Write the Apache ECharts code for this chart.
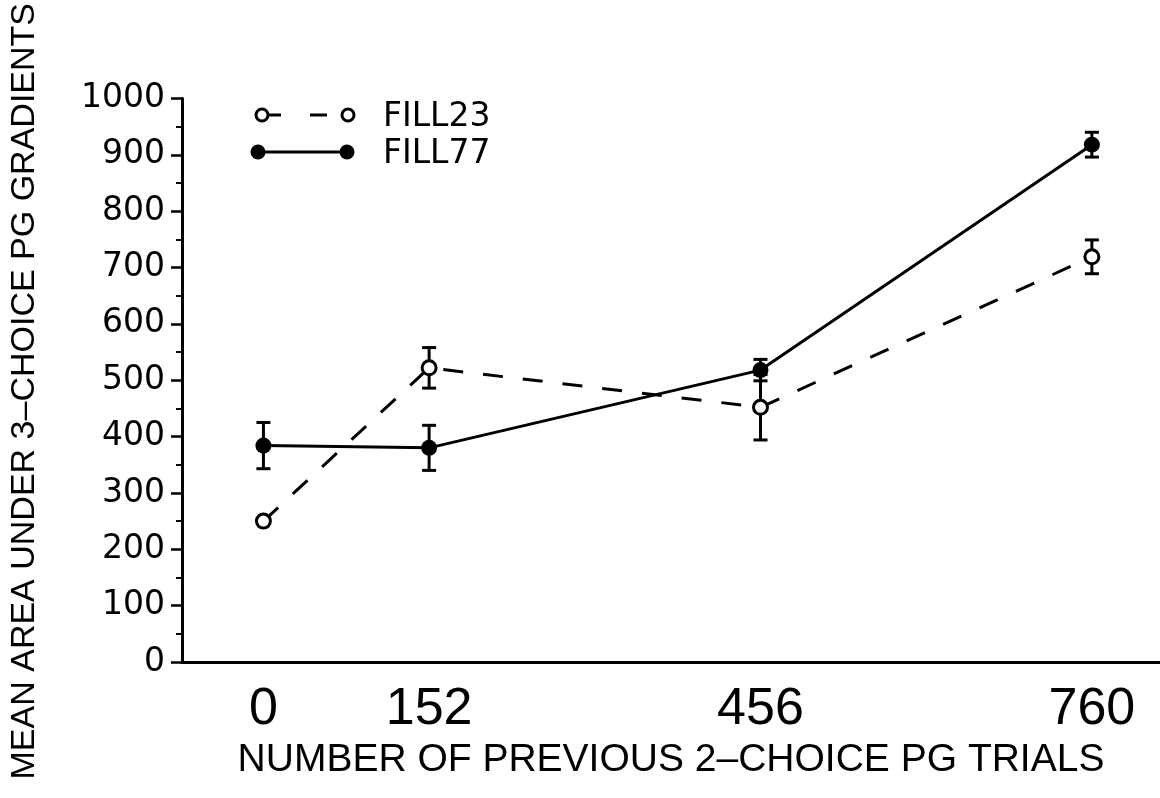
<!DOCTYPE html>
<html>
<head>
<meta charset="utf-8">
<title>Mean area under 3-choice PG gradients</title>
<script src="https://cdn.jsdelivr.net/npm/echarts@6/dist/echarts.min.js"></script>
<style>
  html, body { margin: 0; padding: 0; background: #fff; }
  #chart { width: 1160px; height: 798px; }
</style>
</head>
<body>
<div id="chart"></div>
<script>
// Number of previous 2-choice PG trials
const trials = [0, 152, 456, 760];
const trialTicks = [0, 152, 456, 760];

// Group means and error half-widths
const fill23 = [250, 522, 452, 719];
const fill23Err = [0, 36, 58, 30];
const fill77 = [384, 380, 518, 918];
const fill77Err = [41, 40, 19, 22];

const yTicks = [0, 1000, 100]; // min, max, step

const INK = '#000';

function pairs(xs, ys) {
  return xs.map((x, i) => [x, ys[i]]);
}
function errRows(xs, ys, es) {
  return xs.map((x, i) => [x, ys[i], es[i]]);
}

// Error bar: vertical stem with a short horizontal cap at each end
function renderErr(params, api) {
  const x = api.value(0), y = api.value(1), e = api.value(2);
  if (!e) return null;
  const hi = api.coord([x, y + e]);
  const lo = api.coord([x, y - e]);
  const cap = 7;
  const style = { stroke: INK, lineWidth: 3, fill: null };
  return {
    type: 'group',
    children: [
      { type: 'line', shape: { x1: hi[0], y1: hi[1], x2: lo[0], y2: lo[1] }, style },
      { type: 'line', shape: { x1: hi[0] - cap, y1: hi[1], x2: hi[0] + cap, y2: hi[1] }, style },
      { type: 'line', shape: { x1: lo[0] - cap, y1: lo[1], x2: lo[0] + cap, y2: lo[1] }, style }
    ]
  };
}

const chart = echarts.init(document.getElementById('chart'), null, { renderer: 'canvas' });

const legendStyle = { stroke: INK, lineWidth: 3 };
const legendFont = '33px "DejaVu Sans"';

chart.setOption({
  animation: false,
  backgroundColor: '#fff',
  grid: { left: 177, right: 0, top: 89, bottom: 136 },
  xAxis: {
    type: 'value',
    min: -74.7,
    max: 822.5,
    name: 'NUMBER OF PREVIOUS 2\u2013CHOICE PG TRIALS',
    nameLocation: 'middle',
    nameGap: 76,
    nameTextStyle: { color: INK, fontFamily: 'Liberation Sans', fontSize: 39 },
    axisLine: { show: true, onZero: false, lineStyle: { color: INK, width: 3 } },
    axisTick: { show: false },
    splitLine: { show: false },
    axisLabel: {
      customValues: trialTicks,
      color: INK,
      fontFamily: 'Liberation Sans',
      fontSize: 52,
      margin: 22
    }
  },
  yAxis: {
    type: 'value',
    min: yTicks[0],
    max: yTicks[1],
    interval: yTicks[2],
    name: 'MEAN AREA UNDER 3\u2013CHOICE PG GRADIENTS',
    nameLocation: 'middle',
    nameGap: 140,
    nameTextStyle: { color: INK, fontFamily: 'Liberation Sans', fontSize: 34, padding: [0, 22, 0, 0] },
    axisLine: { show: true, onZero: false, lineStyle: { color: INK, width: 3 } },
    axisTick: { show: true, length: 11, lineStyle: { color: INK, width: 2.5 } },
    minorTick: { show: true, splitNumber: 2, length: 6, lineStyle: { color: INK, width: 2 } },
    splitLine: { show: false },
    axisLabel: {
      color: INK,
      fontFamily: 'DejaVu Sans',
      fontSize: 33,
      margin: 17,
      formatter: (v) => String(v)
    }
  },
  graphic: [
    // FILL23 key: open circle, dashes, open circle
    { type: 'circle', shape: { cx: 262, cy: 115, r: 6 }, style: { fill: '#fff', stroke: INK, lineWidth: 3 } },
    { type: 'line', shape: { x1: 269, y1: 115, x2: 281, y2: 115 }, style: legendStyle },
    { type: 'line', shape: { x1: 310, y1: 115, x2: 327, y2: 115 }, style: legendStyle },
    { type: 'circle', shape: { cx: 348, cy: 115, r: 6 }, style: { fill: '#fff', stroke: INK, lineWidth: 3 } },
    { type: 'text', x: 383, y: 117, style: { text: 'FILL23', font: legendFont, fill: INK, verticalAlign: 'middle' } },
    // FILL77 key: filled circle, solid line, filled circle
    { type: 'circle', shape: { cx: 258, cy: 152, r: 7.5 }, style: { fill: INK } },
    { type: 'line', shape: { x1: 264, y1: 152, x2: 340, y2: 152 }, style: legendStyle },
    { type: 'circle', shape: { cx: 347, cy: 152, r: 7.5 }, style: { fill: INK } },
    { type: 'text', x: 383, y: 154, style: { text: 'FILL77', font: legendFont, fill: INK, verticalAlign: 'middle' } }
  ],
  series: [
    {
      name: 'FILL23 error',
      type: 'custom',
      z: 1,
      renderItem: renderErr,
      data: errRows(trials, fill23, fill23Err)
    },
    {
      name: 'FILL77 error',
      type: 'custom',
      z: 1,
      renderItem: renderErr,
      data: errRows(trials, fill77, fill77Err)
    },
    {
      name: 'FILL23',
      type: 'line',
      z: 3,
      data: pairs(trials, fill23),
      symbol: 'circle',
      symbolSize: 14,
      showAllSymbol: true,
      lineStyle: { color: INK, width: 3, type: [20, 20] },
      itemStyle: { color: '#fff', borderColor: INK, borderWidth: 3 }
    },
    {
      name: 'FILL77',
      type: 'line',
      z: 2,
      data: pairs(trials, fill77),
      symbol: 'circle',
      symbolSize: 16,
      showAllSymbol: true,
      lineStyle: { color: INK, width: 3 },
      itemStyle: { color: INK, borderWidth: 0 }
    }
  ]
});
</script>
</body>
</html>
